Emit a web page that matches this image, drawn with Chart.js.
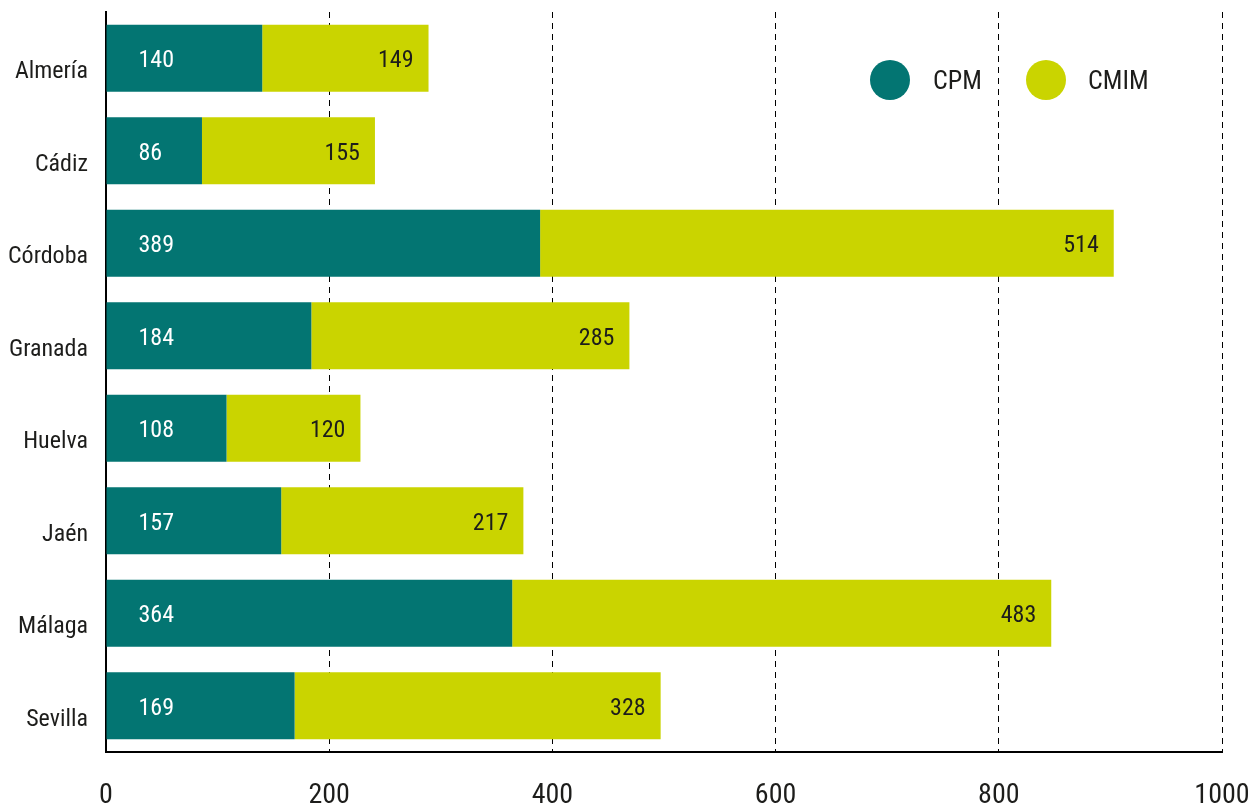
<!DOCTYPE html>
<html>
<head>
<meta charset="utf-8">
<script src="https://cdn.jsdelivr.net/npm/chart.js@4/dist/chart.umd.min.js"></script>
<style>
  html, body { margin: 0; padding: 0; background: #fff; }
  #wrap { width: 1251px; height: 805px; position: relative; }
</style>
</head>
<body>
<div id="wrap"><canvas id="c"></canvas></div>
<script>
const provincias = ['Almería', 'Cádiz', 'Córdoba', 'Granada', 'Huelva', 'Jaén', 'Málaga', 'Sevilla'];
const cpm  = [140, 86, 389, 184, 108, 157, 364, 169];
const cmim = [149, 155, 514, 285, 120, 217, 483, 328];
const xTicks = [0, 200, 400, 600, 800, 1000];

const FONT = '"Roboto Condensed", "Liberation Sans Narrow", "DejaVu Sans Condensed", Roboto, sans-serif';
const INK = '#1d1d1b';
const TEAL = '#037572';
const LIME = '#cad400';

// Value labels: CPM at the start of its bar, CMIM at the end of its bar
const valueLabels = {
  id: 'valueLabels',
  afterDatasetsDraw(chart) {
    const ctx = chart.ctx;
    ctx.save();
    ctx.font = '24px ' + FONT;
    ctx.textBaseline = 'middle';
    chart.data.datasets.forEach((ds, di) => {
      const meta = chart.getDatasetMeta(di);
      meta.data.forEach((bar, i) => {
        const v = ds.data[i];
        if (di === 0) {
          ctx.fillStyle = '#ffffff';
          ctx.textAlign = 'left';
          ctx.fillText(String(v), bar.base + 32, bar.y + 3);
        } else {
          ctx.fillStyle = INK;
          ctx.textAlign = 'right';
          ctx.fillText(String(v), bar.x - 15, bar.y + 3);
        }
      });
    });
    ctx.restore();
  }
};

// Legend with round markers inside the plot
const circleLegend = {
  id: 'circleLegend',
  afterDraw(chart) {
    const ctx = chart.ctx;
    const spots = [{cx: 890, tx: 933}, {cx: 1046, tx: 1088}];
    ctx.save();
    ctx.font = '26px ' + FONT;
    ctx.textBaseline = 'middle';
    ctx.textAlign = 'left';
    chart.data.datasets.forEach((ds, i) => {
      const s = spots[i];
      ctx.beginPath();
      ctx.arc(s.cx, 80, 20, 0, Math.PI * 2);
      ctx.fillStyle = ds.backgroundColor;
      ctx.fill();
      ctx.fillStyle = INK;
      ctx.fillText(ds.label, s.tx, 82);
    });
    ctx.restore();
  }
};

new Chart(document.getElementById('c'), {
  type: 'bar',
  data: {
    labels: provincias,
    datasets: [
      { label: 'CPM', data: cpm, backgroundColor: TEAL },
      { label: 'CMIM', data: cmim, backgroundColor: LIME }
    ]
  },
  options: {
    indexAxis: 'y',
    responsive: true,
    maintainAspectRatio: false,
    animation: false,
    layout: { padding: { top: 12, right: 29, bottom: 0, left: 0 } },
    datasets: { bar: { categoryPercentage: 1, barPercentage: 0.725, borderWidth: 0 } },
    plugins: { legend: { display: false }, tooltip: { enabled: false } },
    scales: {
      x: {
        stacked: true,
        min: 0,
        max: 1000,
        afterBuildTicks(scale) { scale.ticks = xTicks.map(v => ({ value: v })); },
        afterFit(scale) {
          scale.height = 53;
          scale.paddingLeft = 0;
          scale.paddingRight = 0;
        },
        grid: {
          drawTicks: false,
          lineWidth: 1,
          color: c => (c.tick && c.tick.value === 0) ? 'rgba(0,0,0,0)' : '#000'
        },
        border: { display: true, color: '#000', width: 2, dash: [6, 5] },
        ticks: {
          padding: 27,
          color: INK,
          font: { family: FONT, size: 28 },
          maxRotation: 0,
          callback: v => String(v)
        }
      },
      y: {
        stacked: true,
        afterFit(scale) {
          scale.width = 106;
          scale.paddingTop = 0;
          scale.paddingBottom = 0;
        },
        grid: { display: false, drawTicks: false },
        border: { display: true, color: '#000', width: 2 },
        ticks: {
          padding: 18,
          labelOffset: 14,
          color: INK,
          font: { family: FONT, size: 24 }
        }
      }
    }
  },
  plugins: [valueLabels, circleLegend]
});
</script>
</body>
</html>
